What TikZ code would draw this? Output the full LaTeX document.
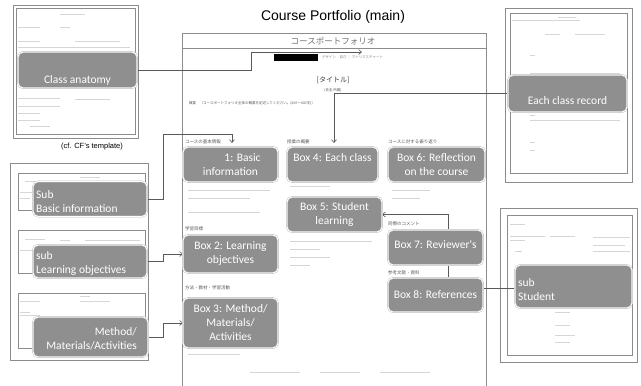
\documentclass[tikz,border=0pt]{standalone}
\usepackage{fontspec}
\setmainfont{Liberation Sans}
\newfontfamily\boxfont{Carlito}
\newfontfamily\jpfont{Noto Sans CJK JP}
\usetikzlibrary{arrows.meta}

\tikzset{
  graybox/.style={rectangle, rounded corners=5pt, fill=black!44, draw=black!26,
    double=white, double distance=0.9pt, line width=0.4pt, inner sep=0pt},
  boxtext/.style={font=\boxfont\fontsize{11.5}{14}\selectfont, text=white,
    align=center, inner sep=0pt},
  sheet/.style={draw=black!45, line width=0.6pt, fill=white},
  scribble/.style={draw=black!16, line width=0.9pt},
  link/.style={draw=black!65, line width=0.6pt},
  jplabel/.style={font=\jpfont\fontsize{4.5}{5}\selectfont, text=black!65,
    anchor=west, inner sep=0pt},
}

\begin{document}
\begin{tikzpicture}[x=1pt, y=-1pt, >={Straight Barb[length=3pt,width=5pt]}]
  \useasboundingbox (0,0) rectangle (641,386);

  % Title
  \node[font=\fontsize{14}{16}\selectfont] (title) at (333,17) {Course Portfolio (main)};

  % Main portfolio sheet
  \draw[sheet] (182,33) rectangle (486,386);
  \draw[draw=black!45, line width=0.6pt] (182,48) -- (486,48);
  \node[font=\jpfont\fontsize{8.5}{10}\selectfont, text=black!55] (head) at (333,41) {コースポートフォリオ};
  \node[fill=black, minimum width=44pt, minimum height=7pt, inner sep=0pt] (tab) at (296,57.5) {};
  \node[jplabel, text=black!50, font=\jpfont\fontsize{3.5}{4}\selectfont] (tabs) at (322,57.5) {デザイン　自己 ｜ マトリクスチャート};
  \node[font=\jpfont\fontsize{7}{8}\selectfont, text=black!75] (titel) at (333,80) {[タイトル]};
  \node[jplabel, anchor=center, font=\jpfont\fontsize{3.5}{4}\selectfont] (name) at (333,90) {(氏名 所属)};
  \node[jplabel, font=\jpfont\fontsize{3.5}{4}\selectfont] (summary) at (189,103) {概要　〔コースポートフォリオ全体の概要を記述してください。(200〜400字)〕};

  % Section labels on the main sheet
  \node[jplabel] (lab1) at (185,142) {コースの基本情報};
  \node[jplabel] (lab4) at (287,142) {授業の概要};
  \node[jplabel] (lab6) at (388,142) {コースに対する振り返り};
  \node[jplabel] (lab2) at (185,229) {学習目標};
  \node[jplabel] (lab7) at (388,224) {同僚のコメント};
  \node[jplabel] (lab8) at (388,273) {参考文献・資料};
  \node[jplabel] (lab3) at (185,288) {方法・教材・学習活動};

  % faint lines on the main sheet
  \foreach \xa/\xb/\y in {188/270/190, 188/250/198, 188/260/212, 290/330/186, 290/372/241,
      290/320/249, 290/330/257, 290/310/265, 392/430/190, 392/420/198, 188/240/354,
      250/300/372, 320/360/372, 380/430/372} {
    \draw[scribble] (\xa,\y) -- (\xb,\y);
  }

  % Thumbnail: CF's template
  \draw[sheet] (13,5) rectangle (138,138);
  \draw[sheet] (16,8) rectangle (135,134);
  \foreach \xa/\xb/\y in {60/85/14, 18/40/27, 60/70/27, 18/40/41, 75/120/41, 18/130/47,
      18/60/98, 75/110/99, 18/60/106, 18/40/113, 18/40/120, 30/50/126} {
    \draw[scribble] (\xa,\y) -- (\xb,\y);
  }
  \node[font=\fontsize{7.5}{9}\selectfont] (cf) at (92,147) {(cf. CF's template)};

  % Thumbnail: each class record
  \draw[sheet] (505,8) rectangle (632,182);
  \draw[sheet] (510,13) rectangle (627,173);
  \foreach \xa/\xb/\y in {558/576/17, 512/580/20, 545/560/34, 575/605/34, 530/535/55,
      530/620/73, 530/535/115, 530/620/120, 530/535/142, 530/535/150} {
    \draw[scribble] (\xa,\y) -- (\xb,\y);
  }

  % Left panel with three sub sheets
  \draw[sheet] (10,163) rectangle (148,360);
  \draw[sheet] (18,173) rectangle (145,210);
  \draw[sheet] (18,230) rectangle (145,273);
  \draw[sheet] (18,293) rectangle (145,348);
  \foreach \xa/\xb/\y in {80/100/177, 25/40/181, 60/140/181, 20/32/192, 20/30/198,
      25/45/239, 60/70/240, 85/140/240, 20/32/250, 80/90/296, 20/40/301, 80/110/301,
      20/30/312, 20/40/315} {
    \draw[scribble] (\xa,\y) -- (\xb,\y);
  }

  % Thumbnail: student sheet
  \draw[sheet] (500,208) rectangle (637,362);
  \draw[sheet] (507,215) rectangle (632,355);
  \foreach \xa/\xb/\y in {510/525/224, 510/545/236, 550/575/236, 593/630/237, 510/525/240,
      593/625/245, 593/630/251, 515/522/251, 555/570/312, 555/570/325, 555/575/335, 555/570/342} {
    \draw[scribble] (\xa,\y) -- (\xb,\y);
  }

  % Free ends of the connectors
  \coordinate (tabend) at (362,52);
  \coordinate (box1in) at (232,143);
  \coordinate (box4in) at (334,143);
  \coordinate (turn) at (448,214.5);

  % Connectors (drawn below the boxes)
  \coordinate (anatside) at (137,70);
  \draw[link, ->] (anatside) -| (251,52) -- (tabend);
  \draw[link, ->] (508,93.5) -| (box4in);
  \draw[link, ->] (147,199) -| (163,134) -| (box1in);
  \draw[link, ->] (147,261.5) -- ++(16,0) |- (183,254);
  \draw[link, ->] (148,337) -- ++(15,0) |- (183,323);
  \draw[link, ->] (515,288) -| (turn) -- (382,214.5);

  % Boxes on the thumbnails
  \node[graybox, minimum width=119pt, minimum height=36pt] (anat) at (77.5,70) {};
  \node[boxtext] (anatt) at (77.5,80) {Class anatomy};
  \node[graybox, minimum width=119pt, minimum height=37pt] (record) at (567.5,93.5) {};
  \node[boxtext] (recordt) at (567.5,101) {Each class record};
  \node[graybox, minimum width=114pt, minimum height=35pt] (subbasic) at (90,199) {};
  \node[boxtext, align=left, anchor=west] (subbasict) at (36,202) {Sub\\Basic information};
  \node[graybox, minimum width=114pt, minimum height=33pt] (subobj) at (90,261.5) {};
  \node[boxtext, align=left, anchor=west] (subobjt) at (36,263.5) {sub\\Learning objectives};
  \node[graybox, minimum width=115pt, minimum height=40pt] (submeth) at (90.5,337) {};
  \node[boxtext, align=right, anchor=east] (submetht) at (137,338.5) {Method/\\Materials/Activities};
  \node[graybox, minimum width=117pt, minimum height=43pt] (substud) at (573.5,286.5) {};
  \node[boxtext, align=left, anchor=west] (substudt) at (518,290) {sub\\Student};

  % Boxes on the main sheet
  \node[graybox, boxtext, minimum width=95pt, minimum height=35pt] (box1) at (230.5,164.5)
    {\hspace*{24pt}1: Basic\\information};
  \node[graybox, minimum width=91pt, minimum height=35pt] (box4) at (332.5,164.5) {};
  \node[boxtext] (box4t) at (332.5,158) {Box 4: Each class};
  \node[graybox, boxtext, minimum width=97pt, minimum height=35pt] (box6) at (436.5,164.5)
    {Box 6: Reflection\\on the course};
  \node[graybox, boxtext, minimum width=95pt, minimum height=35pt] (box5) at (334.5,214.5)
    {Box 5: Student\\learning};
  \node[graybox, minimum width=95pt, minimum height=35pt] (box7) at (435.5,247.5) {};
  \node[boxtext] (box7t) at (435.5,245) {Box 7: Reviewer's};
  \node[graybox, boxtext, minimum width=95pt, minimum height=34pt] (box8) at (435.5,295)
    {Box 8: References};
  \node[graybox, boxtext, minimum width=95pt, minimum height=38pt] (box2) at (230.5,254)
    {Box 2: Learning\\objectives};
  \node[graybox, boxtext, minimum width=95pt, minimum height=50pt] (box3) at (230.5,323)
    {Box 3: Method/\\Materials/\\Activities};

\end{tikzpicture}
\end{document}
